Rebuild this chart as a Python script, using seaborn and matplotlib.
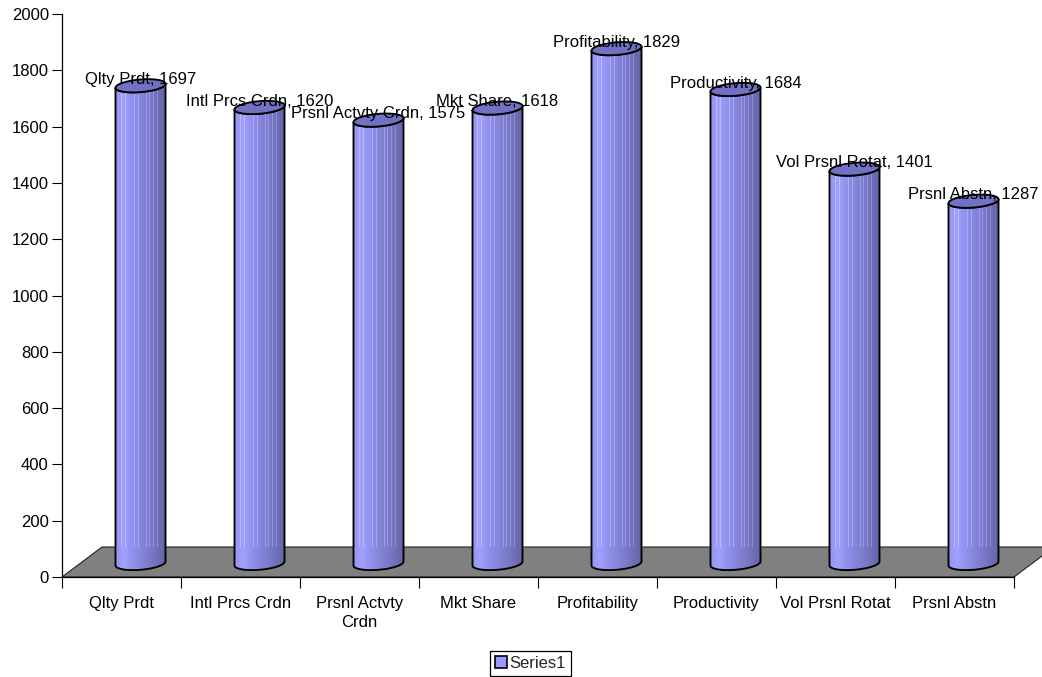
import numpy as np
import pandas as pd
import matplotlib
matplotlib.use("Agg")
import matplotlib.pyplot as plt
from matplotlib.colors import LinearSegmentedColormap
from matplotlib.patches import Polygon
import seaborn as sns

categories = ["Qlty Prdt", "Intl Prcs Crdn", "Prsnl Actvty Crdn", "Mkt Share",
              "Profitability", "Productivity", "Vol Prsnl Rotat", "Prsnl Abstn"]
tick_labels = ["Qlty Prdt", "Intl Prcs Crdn", "Prsnl Actvty\nCrdn", "Mkt Share",
               "Profitability", "Productivity", "Vol Prsnl Rotat", "Prsnl Abstn"]
values = [1697, 1620, 1575, 1618, 1829, 1684, 1401, 1287]
series_name = "Series1"

sns.set_theme(style="ticks")
plt.rcParams["font.family"] = ["Liberation Sans", "DejaVu Sans"]
FS = 12.0

W, H = 1042, 677
fig = plt.figure(figsize=(W / 100, H / 100), dpi=100)
LEFT, RIGHT, TOP, BOTTOM = 62, 1014, 14, 577
ax = fig.add_axes([LEFT / W, 1 - BOTTOM / H, (RIGHT - LEFT) / W, (BOTTOM - TOP) / H])

frame = pd.DataFrame({"category": categories, "value": values})
CYL_W = 50
sns.barplot(data=frame, x="category", y="value", color="#9999ff", saturation=1,
            width=CYL_W / 119, edgecolor="black", linewidth=1.4, label=series_name,
            legend=False, ax=ax)
ax.set_xlim(-0.5, 7.5)
ax.set_ylim(0, 2000)
px_x = (RIGHT - LEFT) / 8
px_y = (BOTTOM - TOP) / 2000

# Depth of the pseudo-3D scene, in pixels
SHIFT_X, SHIFT_Y = 19, 13.5
FLOOR_X, FLOOR_Y = 40, 30
ELL_B, SLOPE = 6.3, 0.08

# Floor plane running off to the back
floor = Polygon([(-0.5, 0), (-0.5 + FLOOR_X / px_x, FLOOR_Y / px_y),
                 (7.5 + FLOOR_X / px_x, FLOOR_Y / px_y), (7.5, 0)],
                closed=True, facecolor="#808080", edgecolor="#222222", linewidth=0.8,
                zorder=0.5, clip_on=False)
ax.add_patch(floor)

shade = LinearSegmentedColormap.from_list(
    "cyl", [(0, "#9696f0"), (0.15, "#a0a0ff"), (0.4, "#8c8ce4"), (0.7, "#7a7ac8"), (1, "#6464a6")])
plain = shade(np.linspace(0, 1, 50))
# thin highlight stripes down the side of each cylinder, above the floor's back edge
striped = plain.copy()
for i in (5, 9, 18, 22, 30, 33, 37, 41):
    striped[i, :3] = np.minimum(striped[i, :3] + 0.11, 1)
plain = plain[np.newaxis]
striped = striped[np.newaxis]


def ellipse(cx, cy, t):
    a = CYL_W / 2
    return (cx + a * np.cos(t) / px_x,
            cy + (ELL_B * np.sin(t) + SLOPE * a * np.cos(t)) / px_y)


for idx, (bar, value) in enumerate(zip(ax.patches, values)):
    cx = bar.get_x() + bar.get_width() / 2 + SHIFT_X / px_x
    y0 = SHIFT_Y / px_y
    y1 = y0 + bar.get_height()
    bar.set_x(cx - bar.get_width() / 2)
    bar.set_y(y0)
    bar.set_visible(False)
    t_low = np.linspace(np.pi, 2 * np.pi, 40)
    xb, yb = ellipse(cx, y0, t_low)
    xt, yt = ellipse(cx, y1, t_low[::-1])
    body = Polygon(np.r_[np.c_[xb, yb], np.c_[xt, yt]], closed=True, facecolor="none",
                   edgecolor="black", linewidth=1.35, zorder=2.6, clip_on=False)
    ax.add_patch(body)
    half = bar.get_width() / 2
    floor_back = FLOOR_Y / px_y
    upper = ax.imshow(striped, extent=(cx - half, cx + half, floor_back, y1 + 30), aspect="auto",
                      interpolation="nearest", zorder=2.4)
    lower = ax.imshow(plain, extent=(cx - half, cx + half, 0, floor_back), aspect="auto",
                      interpolation="nearest", zorder=2.4)
    upper.set_clip_path(body)
    lower.set_clip_path(body)
    t_all = np.linspace(0, 2 * np.pi, 80)
    xe, ye = ellipse(cx, y1, t_all)
    ax.add_patch(Polygon(np.c_[xe, ye], closed=True, facecolor="#7272c4", edgecolor="black",
                         linewidth=1.35, zorder=2.8, clip_on=False))
    ax.annotate(f"{categories[idx]}, {value}",
                xy=(cx, y1), xytext=(0, 4.6), textcoords="offset points",
                ha="center", va="center", fontsize=FS, color="black", zorder=4,
                annotation_clip=False)

ax.set_xlim(-0.5, 7.5)
ax.set_ylim(0, 2000)
ax.set_xlabel("")
ax.set_ylabel("")
ax.set_yticks(np.arange(0, 2001, 200))
ax.set_xticks(np.arange(8))
ax.set_xticklabels(tick_labels, fontsize=FS, color="black", linespacing=1.3)
ax.set_xticks(np.arange(-0.5, 8), minor=True)
ax.tick_params(axis="x", which="major", length=0, pad=14)
ax.tick_params(axis="x", which="minor", length=8, width=0.8, color="black")
ax.tick_params(axis="y", length=7.5, width=0.8, color="black", labelsize=FS, labelcolor="black", pad=2)
for side in ("top", "right"):
    ax.spines[side].set_visible(False)
for side in ("left", "bottom"):
    ax.spines[side].set_color("black")
    ax.spines[side].set_linewidth(0.9)
    ax.spines[side].set_zorder(1)

handles, labels = ax.get_legend_handles_labels()
handles = handles[:1]
leg = ax.legend(handles, [series_name], loc="center", bbox_to_anchor=(530.5 / W, 1 - 663.5 / H),
                bbox_transform=fig.transFigure, frameon=True, fancybox=False, edgecolor="black",
                framealpha=1, fontsize=FS, handlelength=0.7, handleheight=0.7, handletextpad=0.15,
                borderpad=0.3, borderaxespad=0)
leg.get_frame().set_linewidth(0.9)
for h in leg.legend_handles:
    h.set_visible(True)
    h.set_linewidth(1.2)
    h.set_edgecolor("black")
    h.set_facecolor("#9999ff")

fig.savefig("out.png", dpi=100)
